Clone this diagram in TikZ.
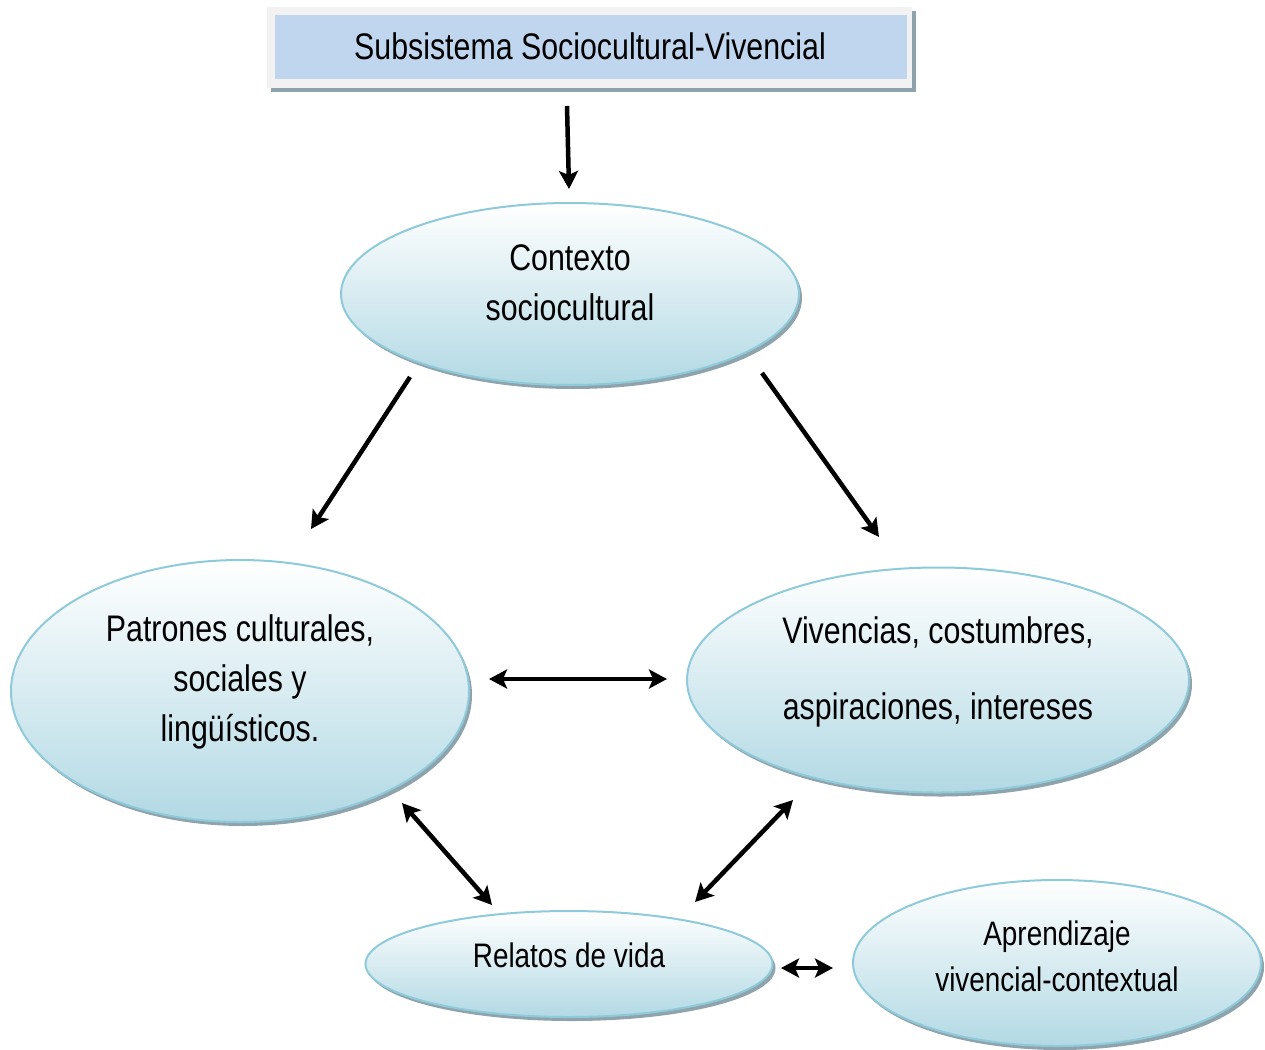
\documentclass[tikz,border=0pt]{standalone}
\usepackage{fontspec}
\setmainfont[FakeStretch=0.82]{Liberation Sans}
\usetikzlibrary{shapes.geometric,shadows,arrows.meta}
\definecolor{ellborder}{HTML}{8FCADA}
\definecolor{ellbot}{HTML}{B2D9E4}
\definecolor{shd}{HTML}{8EA3AC}
\definecolor{titleblue}{HTML}{C0D6EE}
\definecolor{titleframe}{HTML}{F2F2F2}
\begin{document}
\begin{tikzpicture}[x=1pt,y=-1pt,
  bubble/.style={ellipse, draw=ellborder, line width=2pt, top color=white, bottom color=ellbot,
    inner sep=0pt, drop shadow={shadow xshift=3pt,shadow yshift=-4pt,fill=shd,opacity=1}},
  lbl/.style={font=\fontsize{37}{50}\selectfont, align=center, inner sep=0pt, text=black},
  lbls/.style={font=\fontsize{34}{46}\selectfont, align=center, inner sep=0pt, text=black},
  arr/.style={line width=4.5pt, -{Stealth[length=18pt,width=19pt,inset=4pt]}},
  darr/.style={line width=4.5pt, {Stealth[length=18pt,width=19pt,inset=4pt]}-{Stealth[length=18pt,width=19pt,inset=4pt]}}]
\useasboundingbox (0,0) rectangle (1265,1049);

% title box
\fill[shd] (271,11) rectangle (916,92);
\fill[titleframe] (267,7) rectangle (912,88);
\fill[titleblue] (275,15) rectangle (907,79);
\node[lbl] (title) at (590,46) {Subsistema Sociocultural-Vivencial};

% ellipses
\node[bubble, minimum width=458pt, minimum height=182pt] (ctx) at (570,294) {};
\node[lbl] (ctxt) at (570,283) {Contexto\\sociocultural};

\node[bubble, minimum width=458pt, minimum height=262pt] (pat) at (240,691) {};
\node[lbl] (patt) at (240,682) {Patrones culturales,\\sociales y\\lingüísticos.};

\node[bubble, minimum width=502pt, minimum height=225pt] (viv) at (938,680) {};
\node[lbl, font=\fontsize{37}{76}\selectfont] (vivt) at (938,672) {Vivencias, costumbres,\\aspiraciones, intereses};

\node[bubble, minimum width=407pt, minimum height=106pt] (rel) at (569,964) {};
\node[lbls] (relt) at (569,955) {Relatos de vida};

\node[bubble, minimum width=408pt, minimum height=166pt] (apr) at (1057,963) {};
\node[lbls] (aprt) at (1057,956) {Aprendizaje\\vivencial-contextual};

% connector end points
\coordinate (a1) at (567,106); \coordinate (b1) at (569,189);
\coordinate (a2) at (410,377); \coordinate (b2) at (311,529);
\coordinate (a3) at (762,373); \coordinate (b3) at (879,537);
\coordinate (a4) at (489,679); \coordinate (b4) at (667,679);
\coordinate (a5) at (402,803); \coordinate (b5) at (492,905);
\coordinate (a6) at (793,800); \coordinate (b6) at (695,902);
\coordinate (a7) at (781,968); \coordinate (b7) at (833,968);

\draw[arr] (a1) -- (b1);
\draw[arr] (a2) -- (b2);
\draw[arr] (a3) -- (b3);
\draw[darr] (a4) -- (b4);
\draw[darr] (a5) -- (b5);
\draw[darr] (a6) -- (b6);
\draw[darr] (a7) -- (b7);
\end{tikzpicture}
\end{document}
